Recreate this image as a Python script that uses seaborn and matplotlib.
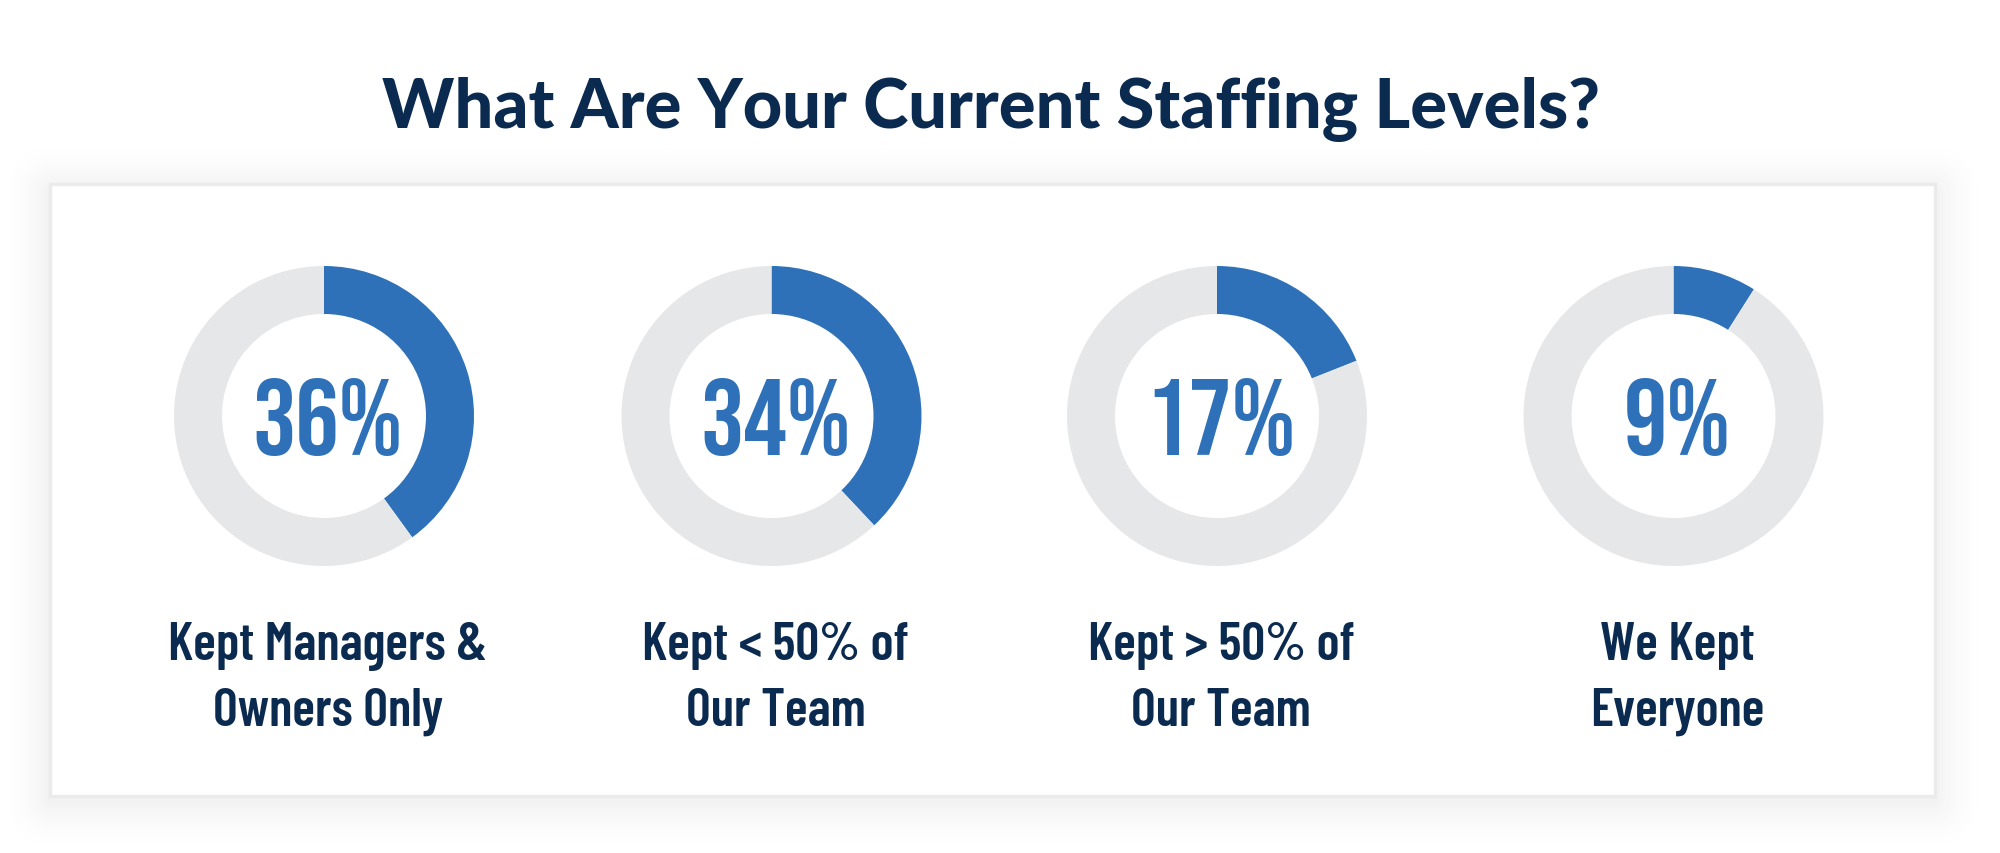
import os
import matplotlib
matplotlib.use("Agg")
import matplotlib.pyplot as plt
from matplotlib import font_manager as fm
from matplotlib.patches import FancyBboxPatch, Rectangle
from matplotlib.textpath import TextPath
import seaborn as sns

# ---------------- data ----------------
title = "What Are Your Current Staffing Levels?"
categories = ["Kept Managers &\nOwners Only",
              "Kept < 50% of\nOur Team",
              "Kept > 50% of\nOur Team",
              "We Kept\nEveryone"]
percent_labels = [36, 34, 17, 9]
# share of each ring painted blue
arc_share = [40, 38, 19, 9]

# ---------------- style ----------------
sns.set_theme(style="white")
blue, ring_gray = "#2E71B8", "#E6E7E9"
navy = "#0B2A4F"

W, H = 2000, 854
DPI = 100


def find_font(patterns, avoid=("italic", "oblique")):
    files = [f.fname for f in fm.fontManager.ttflist]
    for pat in patterns:
        for fn in files:
            b = os.path.basename(fn).lower().replace("-", "").replace("_", "").replace(" ", "")
            if pat in b and not any(a in b for a in avoid):
                return fn
    return None


pct_file = find_font(["bebasneue", "leaguegothic", "oswaldbold",
                      "barlowcondensedbold", "firasansextracondensedbold",
                      "robotocondensedbold", "liberationsansnarrowbold"])
lab_file = find_font(["barlowcondensedsemibold", "robotocondensedbold",
                      "liberationsansnarrowbold"])
ttl_file = find_font(["latoblack", "latobold", "opensansbold", "robotobold", "dejavusansbold"])


def fprop(fn, fallback_weight="bold"):
    if fn:
        return fm.FontProperties(fname=fn)
    return fm.FontProperties(family="DejaVu Sans", weight=fallback_weight)


pct_fp, lab_fp, ttl_fp = fprop(pct_file), fprop(lab_file), fprop(ttl_file)


def fit_size(text, fp, target_w, target_cap):
    w = TextPath((0, 0), text, size=100, prop=fp).get_extents().width
    c = TextPath((0, 0), "H", size=100, prop=fp).get_extents().height
    s_w = 100 * target_w / w
    s_h = 100 * target_cap / c
    return (s_w * s_h) ** 0.5 * 72 / DPI


fig = plt.figure(figsize=(W / DPI, H / DPI), dpi=DPI)
fig.patch.set_facecolor("white")
ax = fig.add_axes([0, 0, 1, 1])

# ---------------- card with soft shadow ----------------
bx0, by0, bx1, by1 = 50, 185, 1935, 797  # image px
n_layers = 26
for k in range(n_layers, 0, -1):
    d = k * 2.0
    g = 255 - 14 * (1 - d / (n_layers * 2.0 + 2)) ** 2
    col = (g / 255, g / 255, g / 255)
    ax.add_patch(FancyBboxPatch((bx0, H - by1 - 6), bx1 - bx0, by1 - by0,
                                boxstyle=f"round,pad={d},rounding_size={d + 4}",
                                facecolor=col, edgecolor="none", zorder=0))
ax.add_patch(Rectangle((bx0, H - by1), bx1 - bx0, by1 - by0,
                       facecolor="white", edgecolor="#EBEBEB", linewidth=2.4, zorder=1))

# ---------------- donuts ----------------
centers_x = [324, 771.5, 1217, 1673.5]
center_y = 417
r_out, ring_w = 150, 48
for cx, share in zip(centers_x, arc_share):
    wedges, _ = ax.pie([share, 100 - share], colors=[blue, ring_gray],
                       startangle=90, counterclock=False, radius=r_out,
                       center=(cx, H - center_y),
                       wedgeprops=dict(width=ring_w, edgecolor="none", linewidth=0))
    for wdg in wedges:
        wdg.set_zorder(2)

ax.set_xlim(0, W)
ax.set_ylim(0, H)
ax.set_aspect("auto")
ax.axis("off")

# ---------------- texts ----------------
ttl_size = fit_size(title, ttl_fp, 1259, 48)
ax.text(991, H - 128, title, ha="center", va="baseline", color=navy,
        fontproperties=ttl_fp, fontsize=ttl_size, zorder=3)

pct_size = fit_size("36%", pct_fp, 131, 83)
for cx, p in zip(centers_x, percent_labels):
    ax.text(cx + 4, H - 455, f"{p}%", ha="center", va="baseline", color=blue,
            fontproperties=pct_fp, fontsize=pct_size, zorder=3)

lab_size = fit_size("Kept Managers &", lab_fp, 306, 38)
for cx, lab in zip(centers_x, categories):
    for j, line in enumerate(lab.split("\n")):
        ax.text(cx + 4, H - (660 + 66 * j), line, ha="center", va="baseline",
                color=navy, fontproperties=lab_fp, fontsize=lab_size, zorder=3)

fig.savefig("out.png", dpi=DPI, facecolor="white")
